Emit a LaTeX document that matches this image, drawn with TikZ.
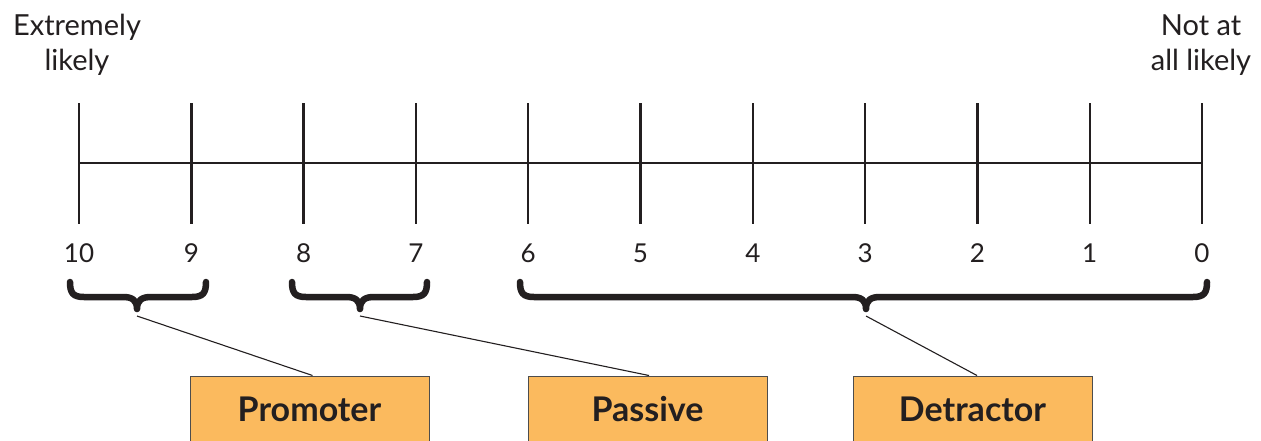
\documentclass[tikz,border=0pt]{standalone}
\usepackage{fontspec}
\setmainfont{Lato}
\definecolor{ink}{HTML}{231F20}
\definecolor{boxfill}{HTML}{FBBA5E}
\definecolor{boxline}{HTML}{4D4D4D}
\tikzset{
  axisline/.style={draw=ink, line width=2.4pt},
  bracestyle/.style={draw=ink, line width=6.5pt, line cap=round, line join=round},
  leader/.style={draw=ink, line width=1.1pt},
  endlabel/.style={align=center, font=\fontsize{29}{35}\selectfont, text=ink, inner sep=0pt},
  numlabel/.style={font=\fontsize{26}{30}\selectfont, text=ink, inner sep=0pt},
  catbox/.style={draw=boxline, line width=1pt, fill=boxfill, minimum width=239pt, minimum height=66pt,
                 anchor=north, font=\bfseries\fontsize{34}{36}\selectfont, text=ink, inner sep=0pt}
}
\begin{document}
\begin{tikzpicture}[x=1pt,y=-1pt]
\clip (0,0) rectangle (1261,440);
\fill[white] (0,0) rectangle (1261,440);
% axis
\coordinate (L) at (79,163);
\coordinate (R) at (1202,163);
\draw[axisline] (L) -- (R);
\foreach \i in {0,...,10}{
  \pgfmathsetmacro{\xx}{79+112.3*\i}
  \pgfmathtruncatemacro{\v}{10-\i}
  \coordinate (t\i a) at (\xx,103);
  \coordinate (t\i b) at (\xx,224);
  \draw[axisline] (t\i a) -- (t\i b);
  \node[numlabel] (n\i) at (\xx,253) {\v};
}
% end labels
\node[endlabel] (ext) at (77,45) {Extremely\\likely};
\node[endlabel] (nal) at (1201,45) {Not at\\all likely};
% braces
\foreach \a/\m/\b/\n in {70/137/206/b1, 292/360/427/b2, 520/866/1207/b3}{
  \draw[bracestyle] (\a,282) .. controls (\a,293) and (\a+3,297) .. (\a+14,297)
     -- (\m-14,297) .. controls (\m-5,297) and (\m,300) .. (\m,309)
     .. controls (\m,300) and (\m+5,297) .. (\m+14,297)
     -- (\b-14,297) .. controls (\b-3,297) and (\b,293) .. (\b,282);
  \coordinate (\n) at (\m,316);
}
% boxes
\node[catbox] (pro) at (309.5,375.5) {Promoter};
\node[catbox] (pas) at (647.5,375.5) {Passive};
\node[catbox] (det) at (972.5,375.5) {Detractor};
\draw[leader] (b1) -- ([xshift=3pt]pro.north);
\draw[leader] (b2) -- ([xshift=1.5pt]pas.north);
\draw[leader] (b3) -- ([xshift=4.5pt]det.north);
\end{tikzpicture}
\end{document}
